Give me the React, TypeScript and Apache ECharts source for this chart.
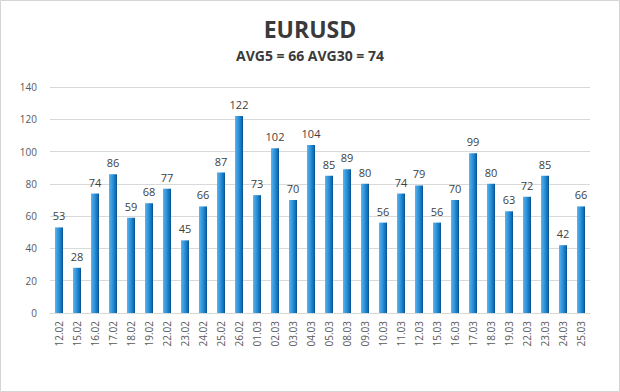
import React, { useEffect, useRef } from "react";
import * as echarts from "echarts";

const categories = ["12.02","15.02","16.02","17.02","18.02","19.02","22.02","23.02","24.02","25.02","26.02","01.03","02.03","03.03","04.03","05.03","08.03","09.03","10.03","11.03","12.03","15.03","16.03","17.03","18.03","19.03","22.03","23.03","24.03","25.03"];
const values = [53,28,74,86,59,68,77,45,66,87,122,73,102,70,104,85,89,80,56,74,79,56,70,99,80,63,72,85,42,66];
const titleText = "EURUSD";
const subtitleText = "AVG5 = 66 AVG30 = 74";

export default function App() {
  const ref = useRef<HTMLDivElement>(null);
  useEffect(() => {
    const chart = echarts.init(ref.current!, null, { renderer: "svg" });
    chart.setOption({
      animation: false,
      backgroundColor: "#ffffff",
      title: {
        text: titleText,
        subtext: subtitleText,
        left: "center",
        top: 12,
        itemGap: 8,
        textStyle: { fontFamily: "Open Sans", fontSize: 23, fontWeight: "bold", color: "#3a3a3a" },
        subtextStyle: { fontFamily: "Open Sans", fontSize: 14, fontWeight: "bold", color: "#3a3a3a" },
      },
      graphic: [
        { type: "rect", shape: { x: 0.5, y: 0.5, width: 619, height: 391 }, style: { fill: "none", stroke: "#d4d4d4", lineWidth: 1 }, silent: true },
      ],
      grid: { left: 50, right: 30, top: 87, bottom: 79 },
      xAxis: {
        type: "category",
        data: categories,
        axisLine: { lineStyle: { color: "#d9d9d9" } },
        axisTick: { show: false },
        axisLabel: { rotate: 90, fontFamily: "Open Sans", fontSize: 10, color: "#595959", margin: 8 },
      },
      yAxis: {
        type: "value",
        min: 0,
        max: 140,
        interval: 20,
        axisLine: { show: false },
        axisTick: { show: false },
        splitLine: { lineStyle: { color: "#d9d9d9" } },
        axisLabel: { fontFamily: "Open Sans", fontSize: 10, color: "#595959", margin: 13 },
      },
      series: [
        {
          type: "bar",
          data: values,
          barWidth: 8,
          itemStyle: {
            color: new echarts.graphic.LinearGradient(0, 0, 1, 0, [
              { offset: 0, color: "#5fb3ec" },
              { offset: 0.6, color: "#1a86d2" },
              { offset: 0.8, color: "#1270b8" },
              { offset: 1, color: "#0b4f86" },
            ]),
          },
          label: { show: true, position: "top", distance: 6, fontFamily: "Open Sans", fontSize: 11, color: "#404040" },
        },
      ],
    });
    return () => chart.dispose();
  }, []);
  return <div ref={ref} style={{ position: "absolute", left: 0, top: 0, width: 620, height: 392 }} />;
}
